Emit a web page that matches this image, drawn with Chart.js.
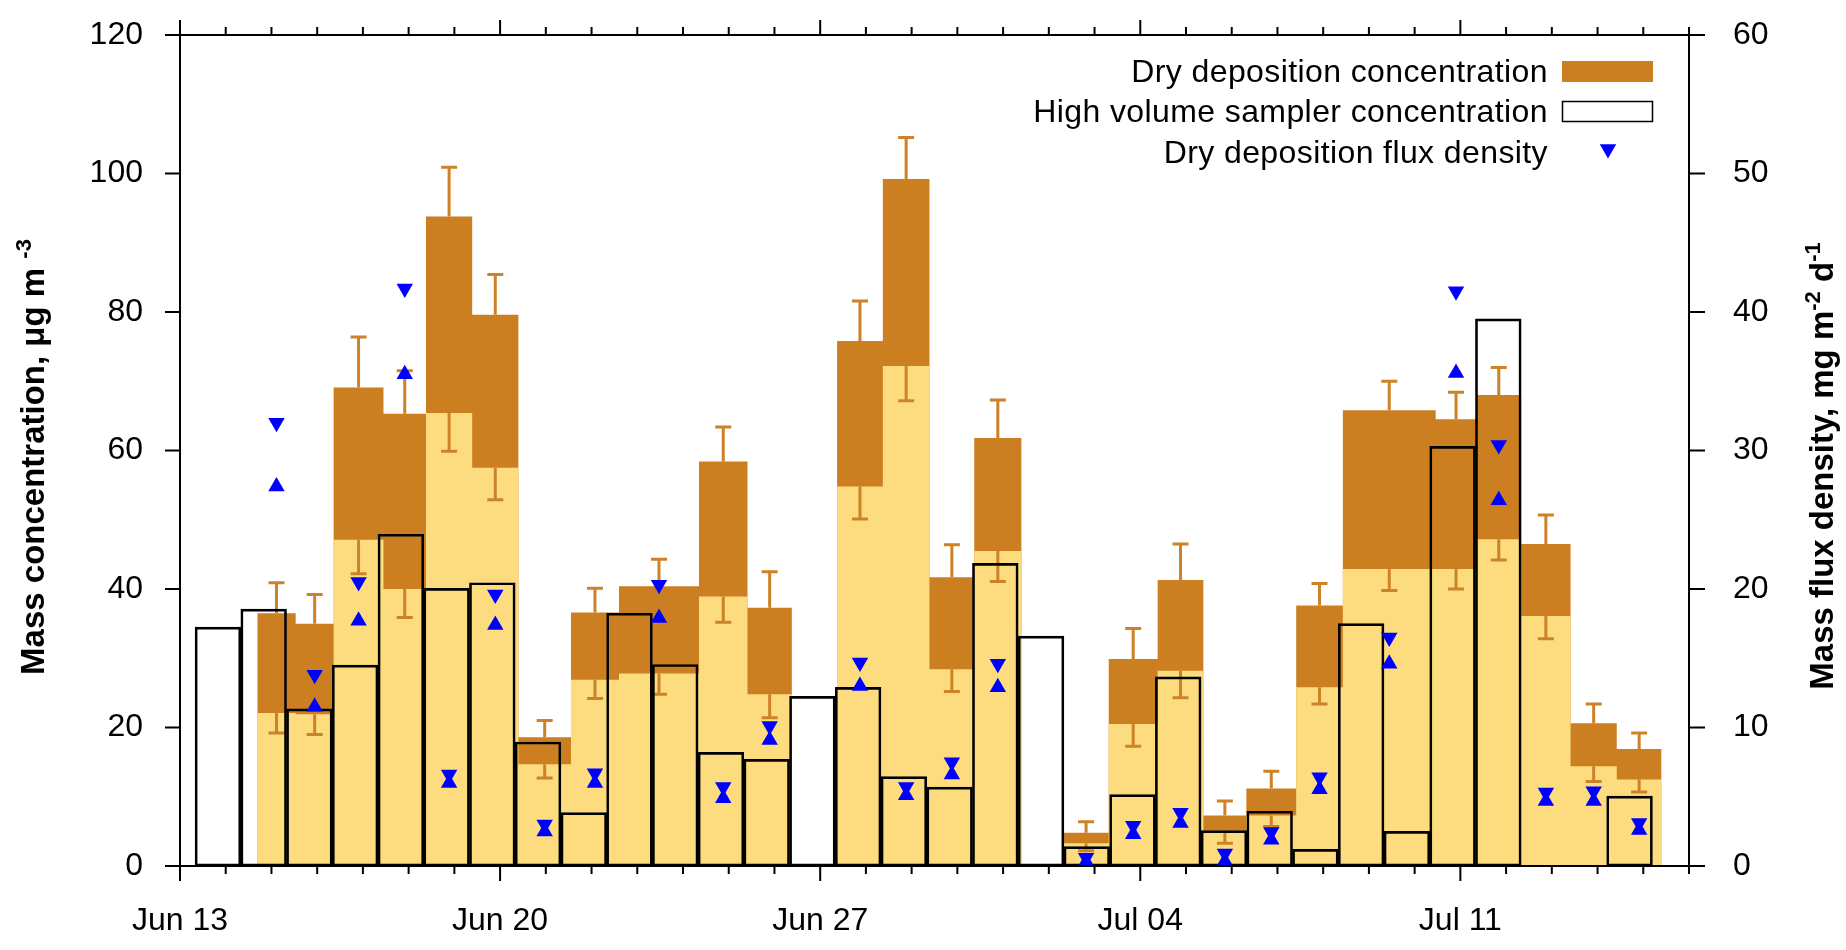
<!DOCTYPE html>
<html>
<head>
<meta charset="utf-8">
<script src="https://cdn.jsdelivr.net/npm/chart.js@4.4.1/dist/chart.umd.min.js"></script>
<style>
  html,body{margin:0;padding:0;background:#fff;}
  #wrap{width:1846px;height:950px;}
</style>
</head>
<body>
<div id="wrap"><canvas id="chart" width="1846" height="950"></canvas></div>
<script>
// time axis: days after Jun 13, 00:00
// dry deposition sampling periods
const ddStart=[1.69,2.53,3.36,4.45,5.38,6.39,7.40,8.55,9.60,11.35,12.41,14.37,15.37,16.39,17.37,19.32,20.31,21.38,22.38,23.32,24.41,25.43,27.46,28.35,29.33,30.41,31.42];
const ddEnd=[2.53,3.36,4.45,5.38,6.39,7.40,8.55,9.60,11.35,12.41,13.38,15.37,16.39,17.37,18.40,20.31,21.38,22.38,23.32,24.41,25.43,27.46,28.35,29.33,30.41,31.42,32.40];
// concentration range, ug/m3
const ddHigh=[36.5,35.0,69.1,65.3,93.8,79.6,18.6,36.6,40.4,58.4,37.3,75.8,99.2,41.7,61.8,4.8,29.9,41.3,7.3,11.2,37.6,65.8,64.5,68.0,46.5,20.6,16.9];
const ddLow=[22.1,21.9,47.1,40.0,65.4,57.5,14.7,26.9,27.8,38.9,24.8,54.8,72.2,28.4,45.5,3.3,20.5,28.2,5.1,7.3,25.8,42.9,42.9,47.2,36.1,14.4,12.5];
const ddHighErr=[40.9,39.2,76.4,71.5,100.9,85.4,21.0,40.1,44.3,63.4,42.5,81.6,105.2,46.4,67.3,6.4,34.3,46.5,9.4,13.7,40.8,70.0,68.4,72.0,50.7,23.4,19.2];
const ddLowErr=[19.2,19.0,42.2,35.9,59.9,52.9,12.7,24.2,24.8,35.2,21.4,50.1,67.2,25.2,41.1,2.2,17.3,24.3,3.3,5.7,23.4,39.8,40.0,44.2,32.8,12.2,10.7];
// flux density range, mg m-2 d-1
const fluxHigh=[32.0,13.8,20.5,41.7,6.6,19.6,3.0,6.7,20.3,5.7,10.1,14.7,5.7,7.5,14.6,0.6,2.9,3.85,0.9,2.45,6.4,16.5,41.5,30.4,5.3,5.4,3.1];
const fluxLow=[27.4,11.5,17.7,35.5,6.0,17.4,2.5,6.0,17.9,4.9,9.1,13.0,5.1,6.6,12.9,0.3,2.3,3.1,0.35,1.9,5.55,14.6,35.6,26.4,4.7,4.7,2.6];

// high volume sampler, 1 day samples
const hvStart=[0.33,1.33,2.33,3.33,4.33,5.33,6.33,7.33,8.33,9.33,10.33,11.33,12.33,13.33,14.33,15.33,16.33,17.33,18.33,19.33,20.33,21.33,22.33,23.33,24.33,25.33,26.33,27.33,28.33,31.2];
const hvConc=[34.5,37.1,22.7,29.0,47.9,40.1,40.9,17.9,7.7,36.5,29.1,16.4,15.4,24.5,25.8,12.9,11.4,43.7,33.2,2.8,10.3,27.3,5.1,7.9,2.4,35.0,5.0,60.6,79.0,10.1];
const hvDays=1;

const months=['Jan','Feb','Mar','Apr','May','Jun','Jul','Aug','Sep','Oct','Nov','Dec'];

const DARK='#CC7F21', LIGHT='#FDDC80', ERR='#CE8228', BLUE='#0000FF';
const FONT='"Liberation Sans", Arial, sans-serif';

const ddMid=ddStart.map((s,i)=>(s+ddEnd[i])/2);

function dayLabel(v){
  let d=new Date(2000,5,13+v);
  return months[d.getMonth()]+' '+String(d.getDate()).padStart(2,'0');
}

// boxes as a filled step line, dropping to 0 where sampling stops
function stepData(vals){
  let pts=[];
  vals.forEach((v,i)=>{
    pts.push({x:ddStart[i],y:v});
    if(i==vals.length-1 || ddStart[i+1]>ddEnd[i]+0.01) pts.push({x:ddEnd[i],y:0});
  });
  return pts;
}

function vTitle(ctx,parts,x,yc){
  ctx.save();
  ctx.translate(x,yc);
  ctx.rotate(-Math.PI/2);
  ctx.fillStyle='#000';
  ctx.textBaseline='alphabetic';
  ctx.textAlign='left';
  let total=0;
  parts.forEach(p=>{
    ctx.font=p.sup?'bold 22px '+FONT:'bold 33px '+FONT;
    p.w=ctx.measureText(p.t).width;
    total+=p.w;
  });
  let cx=-total/2;
  parts.forEach(p=>{
    ctx.font=p.sup?'bold 22px '+FONT:'bold 33px '+FONT;
    ctx.fillText(p.t,cx,p.sup?-13:0);
    cx+=p.w;
  });
  ctx.restore();
}

// keep tick labels from pushing the plot area around
function fixPad(s){
  s.paddingTop=0; s.paddingBottom=0; s.paddingLeft=0; s.paddingRight=0;
}

const decor={
  id:'decor',
  afterDatasetDraw(chart,args){
    if(args.index!==1) return;
    // error bars right after the light fill
    const x=chart.scales.x, y=chart.scales.y, ctx=chart.ctx;
    ctx.save();
    ctx.strokeStyle=ERR;
    ctx.lineWidth=3;
    ddMid.forEach((m,i)=>{
      let px=x.getPixelForValue(m);
      [[ddHigh[i],ddHighErr[i]],[ddLow[i],ddLowErr[i]]].forEach(([a,b])=>{
        let ya=y.getPixelForValue(a), yb=y.getPixelForValue(b);
        ctx.beginPath();
        ctx.moveTo(px,ya); ctx.lineTo(px,yb);
        ctx.moveTo(px-8,yb); ctx.lineTo(px+8,yb);
        ctx.stroke();
      });
    });
    ctx.restore();
  },
  afterDraw(chart){
    const ctx=chart.ctx, a=chart.chartArea;
    const x=chart.scales.x, y=chart.scales.y, y2=chart.scales.y2;
    ctx.save();
    ctx.strokeStyle='#000';
    ctx.lineWidth=2;
    ctx.strokeRect(a.left,a.top,a.right-a.left,a.bottom-a.top);
    ctx.beginPath();
    for(let d=x.min; d<=x.max; d++){
      let px=x.getPixelForValue(d), len=d%7?8:15;
      ctx.moveTo(px,a.bottom); ctx.lineTo(px,a.bottom+len);
      ctx.moveTo(px,a.top); ctx.lineTo(px,a.top-len);
    }
    y.ticks.forEach(t=>{
      let py=y.getPixelForValue(t.value);
      ctx.moveTo(a.left-15,py); ctx.lineTo(a.left,py);
    });
    y2.ticks.forEach(t=>{
      let py=y2.getPixelForValue(t.value);
      ctx.moveTo(a.right,py); ctx.lineTo(a.right+16,py);
    });
    ctx.stroke();

    // legend
    ctx.font='32px '+FONT;
    ctx.letterSpacing='0.4px';
    ctx.fillStyle='#000';
    ctx.textAlign='right';
    ctx.textBaseline='alphabetic';
    ctx.fillText('Dry deposition concentration',1548,82);
    ctx.fillText('High volume sampler concentration',1548,122);
    ctx.fillText('Dry deposition flux density',1548,163);
    ctx.letterSpacing='0px';
    ctx.fillStyle=DARK;
    ctx.fillRect(1562,61,91,21);
    ctx.lineWidth=1.5;
    ctx.strokeRect(1562.5,101.5,90,20);
    ctx.fillStyle=BLUE;
    Chart.helpers.drawPoint(ctx,{pointStyle:'triangle',radius:9.5,rotation:180,borderWidth:0},1608,149);

    vTitle(ctx,[{t:'Mass concentration, μg m '},{t:'-3',sup:true}],44,457);
    vTitle(ctx,[{t:'Mass flux density, mg m'},{t:'-2',sup:true},{t:' d'},{t:'-1',sup:true}],1833,466);
    ctx.restore();
  }
};

const tickFont={family:FONT,size:32};

new Chart(document.getElementById('chart'),{
  type:'bar',
  data:{
    datasets:[
      {
        type:'line',
        data:stepData(ddHigh),
        stepped:'before',
        fill:'origin',
        backgroundColor:DARK,
        borderWidth:0,
        pointRadius:0,
        order:5
      },
      {
        type:'line',
        data:stepData(ddLow),
        stepped:'before',
        fill:'origin',
        backgroundColor:LIGHT,
        borderWidth:0,
        pointRadius:0,
        order:4
      },
      {
        type:'bar',
        data:hvStart.map((s,i)=>({x:s+hvDays/2,y:hvConc[i]})),
        grouped:false,
        barPercentage:1,
        categoryPercentage:1,
        backgroundColor:'rgba(0,0,0,0)',
        borderColor:'#000',
        borderWidth:2,
        borderSkipped:false,
        order:3
      },
      {
        type:'scatter',
        yAxisID:'y2',
        data:ddMid.map((m,i)=>({x:m,y:fluxHigh[i]})),
        pointStyle:'triangle',
        pointRotation:180,
        pointRadius:9.5,
        backgroundColor:BLUE,
        borderWidth:0,
        order:1
      },
      {
        type:'scatter',
        yAxisID:'y2',
        data:ddMid.map((m,i)=>({x:m,y:fluxLow[i]})),
        pointStyle:'triangle',
        pointRadius:9.5,
        backgroundColor:BLUE,
        borderWidth:0,
        order:2
      }
    ]
  },
  options:{
    responsive:false,
    animation:false,
    events:[],
    layout:{padding:{top:35,left:0,right:0,bottom:0}},
    plugins:{legend:{display:false},tooltip:{enabled:false}},
    scales:{
      x:{
        type:'linear',
        offset:false,
        min:0,max:33,
        grid:{display:false,drawTicks:false,offset:false},
        border:{display:false},
        ticks:{stepSize:7,includeBounds:false,padding:36,color:'#000',font:tickFont,maxRotation:0,callback:v=>dayLabel(v)},
        afterFit:s=>{s.height=84; fixPad(s);}
      },
      y:{
        position:'left',
        min:0,max:120,
        stacked:false,
        grid:{display:false,drawTicks:false},
        border:{display:false},
        ticks:{stepSize:20,padding:37,color:'#000',font:tickFont},
        afterFit:s=>{s.width=180; fixPad(s);}
      },
      y2:{
        position:'right',
        min:0,max:60,
        grid:{display:false,drawTicks:false},
        border:{display:false},
        ticks:{stepSize:10,padding:44,color:'#000',font:tickFont},
        afterFit:s=>{s.width=157; fixPad(s);}
      }
    }
  },
  plugins:[decor]
});
</script>
</body>
</html>
